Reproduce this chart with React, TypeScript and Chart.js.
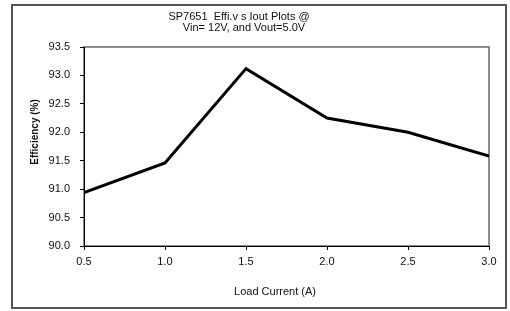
import React, { useEffect, useRef } from "react";
import { Chart, registerables } from "chart.js";

Chart.register(...registerables);

const loadCurrent = [0.5, 1.0, 1.5, 2.0, 2.5, 3.0];
const efficiency = [90.94, 91.46, 93.12, 92.25, 92.0, 91.58];
const titleLines = ["SP7651  Effi.v s Iout Plots @", "Vin= 12V, and Vout=5.0V"];
const xTitle = "Load Current (A)";
const yTitle = "Efficiency (%)";

const FONT = "'Liberation Sans', Arial, sans-serif";

const decorPlugin = {
  id: "decor",
  beforeDraw(chart: any) {
    const { ctx, chartArea } = chart;
    ctx.save();
    ctx.strokeStyle = "#666";
    ctx.lineWidth = 1.5;
    ctx.strokeRect(chartArea.left, chartArea.top, chartArea.right - chartArea.left, chartArea.bottom - chartArea.top);
    ctx.restore();
  },
  afterDraw(chart: any) {
    const { ctx } = chart;
    ctx.save();
    ctx.fillStyle = "#111";
    ctx.textAlign = "center";
    ctx.textBaseline = "middle";
    ctx.font = `11px ${FONT}`;
    ctx.fillText(titleLines[0], 239, 17);
    ctx.fillText(titleLines[1], 244, 28);
    ctx.fillText(xTitle, 275, 292);
    ctx.translate(35, 132);
    ctx.rotate(-Math.PI / 2);
    ctx.font = `bold 10px ${FONT}`;
    ctx.fillText(yTitle, 0, 0);
    ctx.restore();
  },
};

export default function App() {
  const ref = useRef<HTMLCanvasElement>(null);
  useEffect(() => {
    if (!ref.current) return;
    const chart = new Chart(ref.current, {
      type: "line",
      data: {
        datasets: [
          {
            data: loadCurrent.map((x, i) => ({ x, y: efficiency[i] })),
            borderColor: "#000",
            borderWidth: 3,
            pointRadius: 0,
            tension: 0,
            fill: false,
          },
        ],
      },
      options: {
        animation: false,
        responsive: false,
        layout: { padding: { top: 47, left: 0, right: 21, bottom: 0 } },
        plugins: { legend: { display: false }, tooltip: { enabled: false }, title: { display: false } },
        scales: {
          x: {
            type: "linear",
            min: 0.5,
            max: 3.0,
            afterFit: (s: any) => { s.height = 65; },
            ticks: { stepSize: 0.5, callback: (v: any) => Number(v).toFixed(1), color: "#111", font: { family: FONT, size: 11 }, padding: 5, maxRotation: 0 },
            grid: { display: true, drawOnChartArea: false, drawTicks: true, tickLength: 4, color: "#000" },
            border: { color: "#000", width: 1 },
          },
          y: {
            min: 90,
            max: 93.5,
            afterFit: (s: any) => { s.width = 84; },
            ticks: { stepSize: 0.5, callback: (v: any) => Number(v).toFixed(1), color: "#111", font: { family: FONT, size: 11 }, padding: 10 },
            grid: { display: true, drawOnChartArea: false, drawTicks: true, tickLength: 4, color: "#000" },
            border: { color: "#000", width: 1 },
          },
        },
      },
      plugins: [decorPlugin],
    });
    return () => chart.destroy();
  }, []);
  return (
    <div style={{ position: "fixed", left: 0, top: 0, width: 510, height: 311, background: "#fff" }}>
      <div style={{ position: "absolute", left: 11, top: 4, width: 492, height: 301, border: "2px solid #555" }} />
      <canvas ref={ref} width={510} height={311} style={{ position: "absolute", left: 0, top: 0, width: 510, height: 311 }} />
    </div>
  );
}
